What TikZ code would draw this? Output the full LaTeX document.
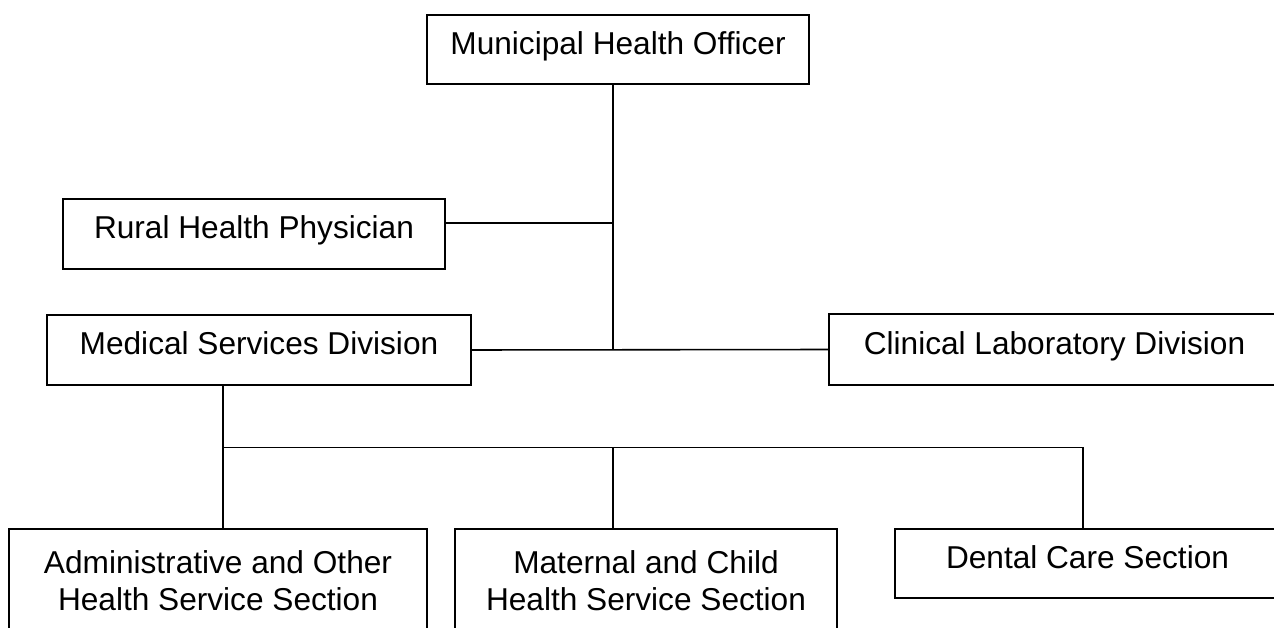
\documentclass[tikz,border=0pt]{standalone}
\usepackage{fontspec}
\setmainfont{Liberation Sans}
\usepackage{tikz}
\usetikzlibrary{calc}
\usetikzlibrary{positioning}

\begin{document}
\begin{tikzpicture}[x=0.02cm, y=-0.02cm, line width=0.9pt,
        box/.style={draw, rectangle, inner sep=0pt, align=center,
            font=\fontsize{18}{21}\selectfont},
        onebox/.style={box, text height=14pt, text depth=8.4pt}]
            \useasboundingbox (0,0) rectangle (1274,628);
            \clip (0,0) rectangle (1274,628);

            \node[onebox, minimum width=7.64cm, minimum height=1.38cm] (mho) at (618,49.5) {Municipal Health Officer};
            \node[onebox, minimum width=7.64cm, minimum height=1.4cm] (rhp) at (254,234) {Rural Health Physician};
            \node[onebox, minimum width=8.48cm, minimum height=1.4cm] (msd) at (259,350) {Medical Services Division};
            \node[onebox, minimum width=9.02cm, minimum height=1.42cm] (cld) at (1054.5,349.5) {Clinical Laboratory Division};

            \node[box, minimum width=8.36cm, minimum height=2.06cm] (ahs) at (218,580.5) {Administrative and Other\\Health Service Section};
            \node[box, minimum width=7.64cm, minimum height=2.06cm] (mch) at (646,580.5) {Maternal and Child\\Health Service Section};
            \node[onebox, minimum width=7.7cm, minimum height=1.38cm] (dcs) at (1087.5,563.5) {Dental Care Section};

            % trunk from the officer
            \coordinate (rj) at (613,223);
            \coordinate (hub) at (613,349.5);
            \draw (mho.south -| hub) -- (hub);
            \draw (rj -| rhp.east) -- (rj);
            \draw (msd.east) -- (cld.west);

            % sections under the medical division
            \coordinate (busl) at (223,447.5);
            \coordinate (busm) at (613,447.5);
            \coordinate (busr) at (1083,447.5);
            \draw (msd.south -| busl) -- (busl) -- (busr) -- (busr |- dcs.north);
            \draw (busl) -- (busl |- ahs.north);
            \draw (busm) -- (busm |- mch.north);
        \end{tikzpicture}
\end{document}
